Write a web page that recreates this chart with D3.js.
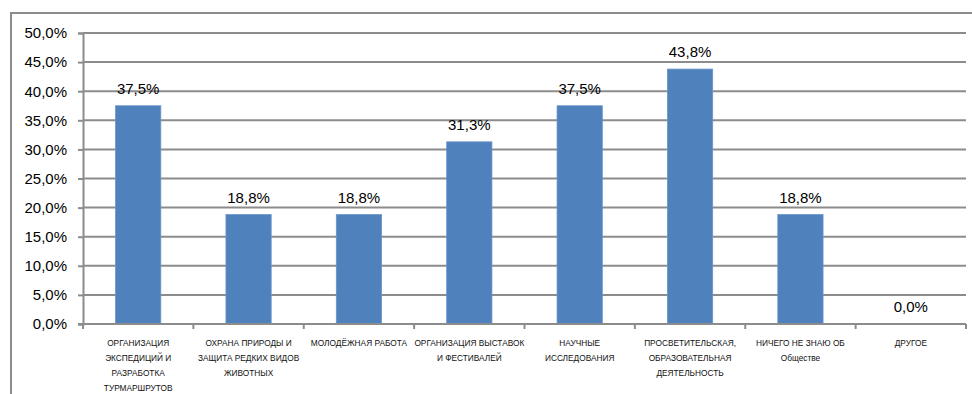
<!DOCTYPE html>
<html><head><meta charset="utf-8">
<script src="https://cdn.jsdelivr.net/npm/d3@7"></script>
<style>body{margin:0;background:#fff}svg{display:block}text{font-family:"Liberation Sans",Arial,sans-serif}</style>
</head><body>
<svg id="c" width="972" height="394"></svg>
<script>
const categories = [
  "ОРГАНИЗАЦИЯ\nЭКСПЕДИЦИЙ И\nРАЗРАБОТКА\nТУРМАРШРУТОВ",
  "ОХРАНА ПРИРОДЫ И\nЗАЩИТА РЕДКИХ ВИДОВ\nЖИВОТНЫХ",
  "МОЛОДЁЖНАЯ РАБОТА",
  "ОРГАНИЗАЦИЯ ВЫСТАВОК\nИ ФЕСТИВАЛЕЙ",
  "НАУЧНЫЕ\nИССЛЕДОВАНИЯ",
  "ПРОСВЕТИТЕЛЬСКАЯ,\nОБРАЗОВАТЕЛЬНАЯ\nДЕЯТЕЛЬНОСТЬ",
  "НИЧЕГО НЕ ЗНАЮ ОБ\nОбществе",
  "ДРУГОЕ"
];
const values = [37.5, 18.8, 18.8, 31.3, 37.5, 43.8, 18.8, 0.0];
const yTicks = [0, 5, 10, 15, 20, 25, 30, 35, 40, 45, 50];

(function() {
const svg = d3.select("#c");
const pl = 83, pr = 966, pt = 33, pb = 324;
const gray = "#8c8c8c";
const fmt = v => v.toFixed(1).replace(".", ",") + "%";

// outer frame
svg.append("path").attr("d", "M11,394 V13 H972").attr("fill","none").attr("stroke", gray).attr("stroke-width", 2);

const x = d3.scaleBand().domain(d3.range(categories.length)).range([pl, pr]).paddingInner(0.59).paddingOuter(0.295);
const y = d3.scaleLinear().domain([0, 50]).range([pb, pt]);

// gridlines
svg.append("g").selectAll("line").data(yTicks.filter(t => t > 0)).join("line")
  .attr("x1", pl).attr("x2", pr).attr("y1", d => y(d)).attr("y2", d => y(d))
  .attr("stroke", gray).attr("stroke-width", 2);

// y axis
const yAxis = svg.append("g").attr("transform", `translate(${pl},0)`)
  .call(d3.axisLeft(y).tickValues(yTicks).tickFormat(fmt).tickSize(5).tickPadding(11));
yAxis.select(".domain").attr("stroke", gray).attr("stroke-width", 2);
yAxis.selectAll(".tick line").attr("stroke", gray).attr("stroke-width", 2);
yAxis.selectAll(".tick text").attr("font-size", 15).attr("fill", "#000").attr("font-family", '"Liberation Sans",Arial,sans-serif');

// bars
svg.append("g").selectAll("rect").data(values).join("rect")
  .attr("x", (d, i) => x(i)).attr("width", x.bandwidth())
  .attr("y", d => y(d)).attr("height", d => pb - y(d))
  .attr("fill", "#4f81bd").attr("stroke", "#6a95c8").attr("stroke-width", 0.8);

// x axis
const step = (pr - pl) / categories.length;
const xb = svg.append("g");
xb.append("line").attr("x1", pl - 5).attr("x2", pr).attr("y1", pb).attr("y2", pb).attr("stroke", gray).attr("stroke-width", 2);
xb.selectAll("line.t").data(d3.range(categories.length + 1)).join("line").attr("class","t")
  .attr("x1", i => pl + i * step).attr("x2", i => pl + i * step)
  .attr("y1", pb).attr("y2", pb + 5).attr("stroke", gray).attr("stroke-width", 2);

// category labels
const cl = svg.append("g").selectAll("text").data(categories).join("text")
  .attr("x", (d, i) => x(i) + x.bandwidth() / 2).attr("y", 346)
  .attr("text-anchor", "middle").attr("font-size", 8.3).attr("fill", "#111");
cl.each(function(d) {
  const t = d3.select(this);
  d.split("\n").forEach((ln, j) => {
    t.append("tspan").attr("x", t.attr("x")).attr("dy", j === 0 ? 0 : 15).text(ln);
  });
});

// data labels
svg.append("g").selectAll("text").data(values).join("text")
  .attr("x", (d, i) => x(i) + x.bandwidth() / 2).attr("y", d => y(d) - 12)
  .attr("text-anchor", "middle").attr("font-size", 15).attr("fill", "#000")
  .text(fmt);
})();
</script>
</body></html>
